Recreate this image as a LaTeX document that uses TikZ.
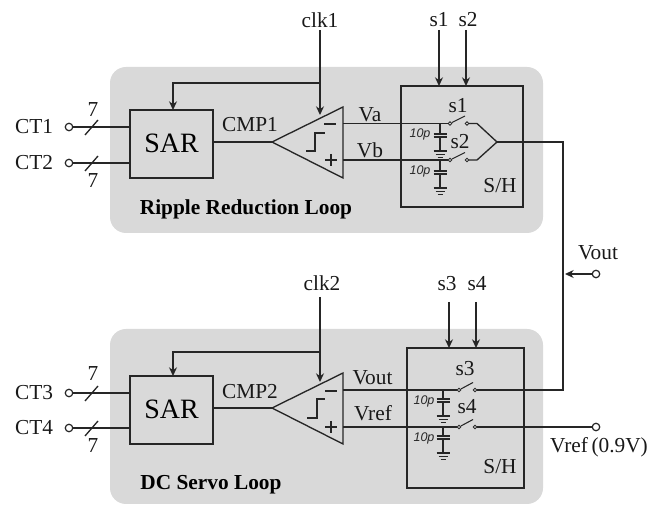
\documentclass[tikz,border=0pt]{standalone}
\usepackage{fontspec}
\setmainfont{Liberation Serif}
\newfontfamily\capfont{Liberation Sans}
\usetikzlibrary{arrows.meta}
\tikzset{
  wire/.style={draw=black!85,line width=1pt},
  thin wire/.style={draw=black!85,line width=0.8pt},
  sig/.style={wire,-{Stealth[length=6.5pt,width=6pt]}},
  panel/.style={fill=black!15,draw=none,rounded corners=12pt,inner sep=0pt},
  blockbox/.style={draw=black!85,line width=1pt,inner sep=0pt},
  port/.style={circle,draw=black!85,fill=white,line width=0.9pt,minimum size=5.6pt,inner sep=0pt},
  contact/.style={circle,draw=black!85,fill=white,line width=0.7pt,minimum size=2.6pt,inner sep=0pt},
  lab/.style={font=\fontsize{16pt}{18pt}\selectfont,inner sep=0pt,text=black!90},
  saru/.style={font=\fontsize{21pt}{23pt}\selectfont,inner sep=0pt},
  capl/.style={font=\capfont\itshape\fontsize{9.4pt}{10pt}\selectfont,inner sep=0pt,text=black!85},
  loopl/.style={font=\bfseries\fontsize{16pt}{18pt}\selectfont,inner sep=0pt},
}
\newcommand{\capgnd}[3]{%
  \draw[thin wire] (#1,#2) -- (#1,#3);
  \draw[thin wire] (#1,#3+3) -- (#1,#3+17);
  \draw[wire] (#1-6.5,#3) -- (#1+6.5,#3);
  \draw[wire] (#1-6.5,#3+3) -- (#1+6.5,#3+3);
  \draw[wire] (#1-6.5,#3+17) -- (#1+6.5,#3+17);
  \draw[thin wire] (#1-4.5,#3+20.5) -- (#1+4.5,#3+20.5);
  \draw[thin wire] (#1-2.5,#3+23.5) -- (#1+2.5,#3+23.5);
}
\begin{document}
\begin{tikzpicture}[x=0.75pt,y=-0.75pt]
\useasboundingbox (0,0) rectangle (664,505);
% panels
\node[panel,minimum width=324.75pt,minimum height=124.5pt] (panelA) at (326.5,150) {};
\node[panel,minimum width=324.75pt,minimum height=131.25pt] (panelB) at (326.5,416.5) {};
% blocks
\node[blockbox,minimum width=62.25pt,minimum height=51pt] (sarA) at (171.5,144) {};
\node[saru] at (171.5,143) {SAR};
\node[blockbox,minimum width=62.25pt,minimum height=51pt] (sarB) at (171.5,410) {};
\node[saru] at (171.5,409) {SAR};
\node[blockbox,minimum width=91.5pt,minimum height=90.75pt] (shA) at (462,146.5) {};
\node[blockbox,minimum width=87.75pt,minimum height=105pt] (shB) at (465.5,418) {};
% comparators
\coordinate (cmpAtip) at (272,142);
\coordinate (cmpAa) at (343,123.5);
\coordinate (cmpAb) at (343,160);
\coordinate (cmpBtip) at (272,408);
\coordinate (cmpBa) at (343,390);
\coordinate (cmpBb) at (343,427);
\draw[wire,line join=miter] (cmpAtip) -- (343,107) -- (343,178) -- cycle;
\draw[wire,line join=miter] (cmpBtip) -- (343,373) -- (343,444) -- cycle;
\draw[thin wire] (306,151) -- (315,151) -- (315,133) -- (325,133);
\draw[thin wire] (307,418) -- (317,418) -- (317,399) -- (325,399);
\draw[wire] (324,124) -- (336,124);
\draw[wire] (325,160) -- (337,160) (331,154) -- (331,166);
\draw[wire] (325,391) -- (337,391);
\draw[wire] (325,427) -- (337,427) (331,421) -- (331,433);
% SAR-comparator
\draw[wire] (sarA.east |- cmpAtip) -- (cmpAtip);
\draw[wire] (sarB.east |- cmpBtip) -- (cmpBtip);
% clocks
\coordinate (clkAtop) at (320,30);
\coordinate (clkAend) at (320,115);
\coordinate (clkBtop) at (320,297);
\coordinate (clkBend) at (320,382);
\draw[sig] (clkAtop) -- (clkAend);
\draw[sig] (clkBtop) -- (clkBend);
\draw[sig] (320,83) -- (173,83) -- (173,110);
\draw[sig] (320,352) -- (173,352) -- (173,376);
% control arrows
\draw[sig] (439,30) -- (439,86);
\draw[sig] (466,30) -- (466,86);
\draw[sig] (449,302) -- (449,348);
\draw[sig] (476,302) -- (476,348);
% input ports
\node[port] (ct1) at (69,127) {};
\node[port] (ct2) at (69,163) {};
\node[port] (ct3) at (69,393) {};
\node[port] (ct4) at (69,428) {};
\draw[wire] (ct1) -- (ct1 -| sarA.west);
\draw[wire] (ct2) -- (ct2 -| sarA.west);
\draw[wire] (ct3) -- (ct3 -| sarB.west);
\draw[wire] (ct4) -- (ct4 -| sarB.west);
\foreach \yy in {127,163,393,428}{\draw[wire] (85,\yy+8) -- (98,\yy-7);}
% signal lines
\node[contact] (swAl) at (450,123.5) {};
\node[contact] (swAr) at (467,123.5) {};
\node[contact] (swBl) at (450,160) {};
\node[contact] (swBr) at (467,160) {};
\node[contact] (swCl) at (459,390) {};
\node[contact] (swCr) at (475,390) {};
\node[contact] (swDl) at (459,427) {};
\node[contact] (swDr) at (475,427) {};
\draw[wire] (cmpAa) -- (swAl);
\draw[wire] (cmpAb) -- (swBl);
\draw[wire] (cmpBa) -- (swCl);
\draw[wire] (cmpBb) -- (swDl);
\draw[thin wire] (swAl) -- (465,116);
\draw[thin wire] (swBl) -- (465,152.5);
\draw[thin wire] (swCl) -- (473,382.5);
\draw[thin wire] (swDl) -- (473,419.5);
\coordinate (merge) at (497,142);
\draw[wire,line join=miter] (swAr) -- (477,123.5) -- (merge) -- (477,160) -- (swBr);
% output
\coordinate (bus) at (563,142);
\draw[wire,line join=miter] (merge) -- (bus) -- (563,390) -- (swCr);
\node[port] (voutp) at (596,274) {};
\draw[sig] (voutp) -- (565,274);
\node[port] (vrefp) at (596,427) {};
\draw[wire] (swDr) -- (vrefp);
% caps
\capgnd{440}{123.5}{134}
\capgnd{440}{160}{171}
\capgnd{443}{390}{399}
\capgnd{443}{427}{436}
% labels
\node[lab] at (34,127) {CT1};
\node[lab] at (34,163) {CT2};
\node[lab] at (34,393) {CT3};
\node[lab] at (34,428) {CT4};
\node[lab] at (320,20) {clk1};
\node[lab] at (439,20) {s1};
\node[lab] at (468,20) {s2};
\node[lab] at (322,283) {clk2};
\node[lab] at (447,284) {s3};
\node[lab] at (477,284) {s4};
\node[lab] at (93,110) {7};
\node[lab] at (93,181) {7};
\node[lab] at (93,374) {7};
\node[lab] at (93,446) {7};
\node[lab] at (250,125) {CMP1};
\node[lab] at (250,392) {CMP2};
\node[lab] at (370,115) {Va};
\node[lab] at (370,150) {Vb};
\node[lab] at (372.5,378) {Vout};
\node[lab] at (373,413) {Vref};
\node[lab] at (458,106) {s1};
\node[lab] at (460,142) {s2};
\node[lab] at (465,369) {s3};
\node[lab] at (467,407) {s4};
\node[lab] at (500,186) {S/H};
\node[lab] at (500,467) {S/H};
\node[capl] at (420,134) {10p};
\node[capl] at (420,171) {10p};
\node[capl] at (424,401) {10p};
\node[capl] at (424,438) {10p};
\node[loopl] at (246,209) {Ripple Reduction Loop};
\node[loopl] at (211,485) {DC Servo Loop};
\node[lab] at (598,253) {Vout};
\node[lab] at (599,447) {Vref\,(0.9V)};
\end{tikzpicture}
\end{document}
